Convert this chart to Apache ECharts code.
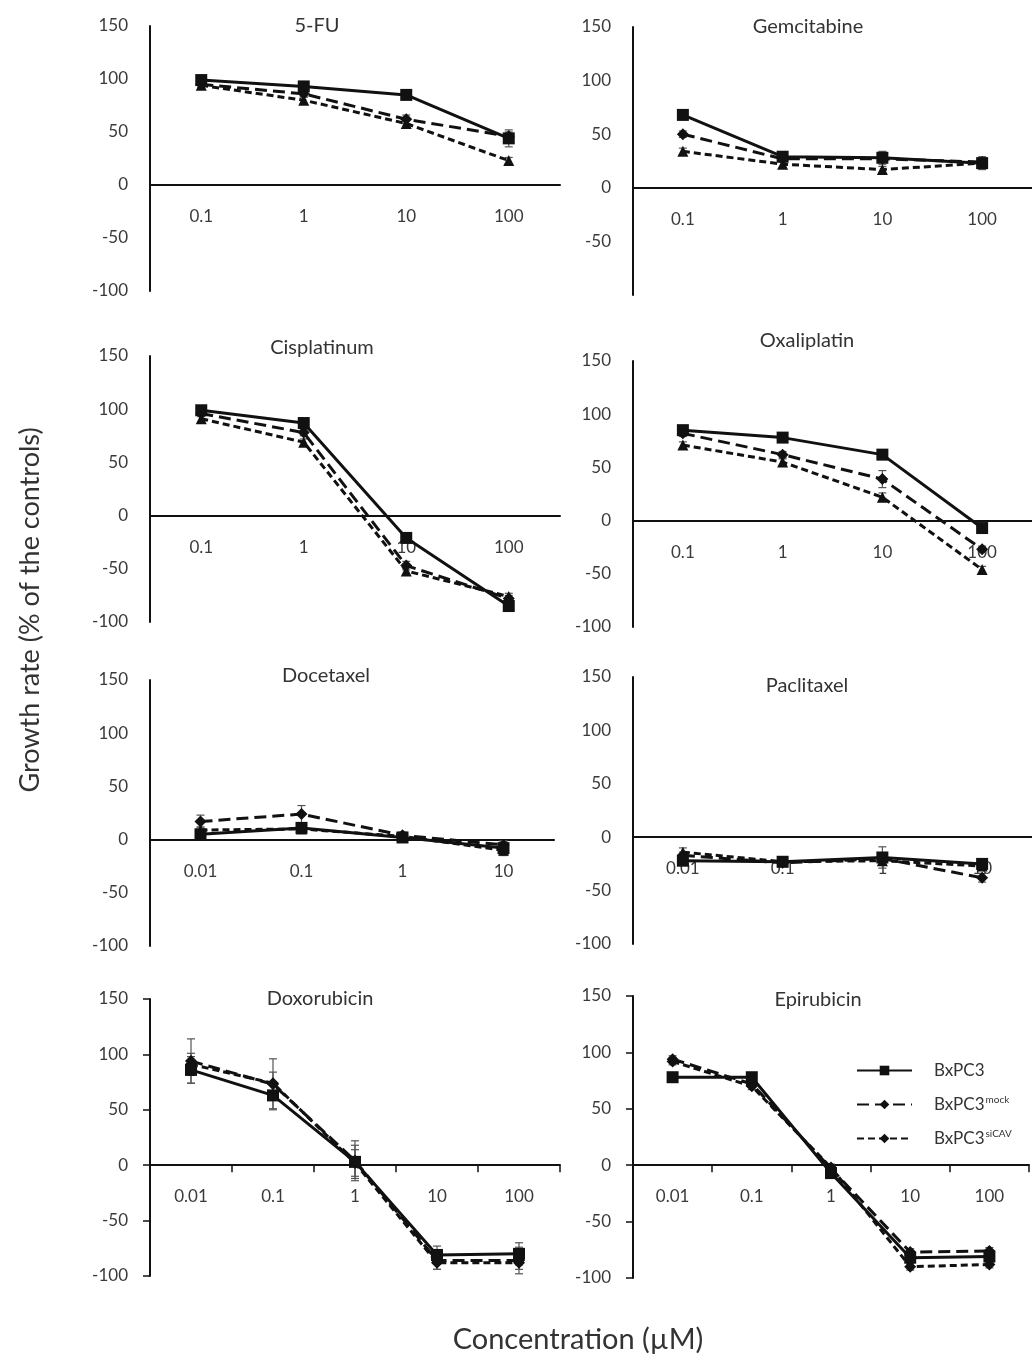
<!DOCTYPE html>
<html><head><meta charset="utf-8">
<script src="https://cdn.jsdelivr.net/npm/echarts@6/dist/echarts.min.js"></script>
<style>html,body{margin:0;padding:0;background:#fff}#c{width:1032px;height:1360px}</style>
</head><body><div id="c"></div>
<script>
// ---------- categories / ticks ----------
const concA = ['0.1', '1', '10', '100'];
const concB = ['0.01', '0.1', '1', '10'];
const concC = ['0.01', '0.1', '1', '10', '100'];
const yMin = -100, yMax = 150, yStep = 50;
const seriesNames = ['BxPC3', 'BxPC3mock', 'BxPC3siCAV'];
const drugTitles = ['5-FU', 'Gemcitabine', 'Cisplatinum', 'Oxaliplatin', 'Docetaxel', 'Paclitaxel', 'Doxorubicin', 'Epirubicin'];

// ---------- values (growth rate, % of controls) ----------
const fu_bx = [99, 93, 85, 44];
const fu_mock = [95, 86, 62, 46];
const fu_si = [94, 80, 58, 23];
const fu_err = [[3, 4, 3, 8], [3, 3, 4, 4], [3, 3, 4, 3]];

const gem_bx = [68, 29, 28, 23];
const gem_mock = [50, 27, 27, 24];
const gem_si = [34, 22, 17, 23];
const gem_err = [[3, 4, 6, 6], [3, 3, 3, 4], [3, 3, 3, 4]];

const cis_bx = [99, 87, -21, -85];
const cis_mock = [96, 78, -47, -78];
const cis_si = [91, 69, -52, -76];
const cis_err = [[3, 3, 4, 3], [3, 3, 4, 3], [3, 3, 4, 3]];

const oxa_bx = [85, 78, 62, -7];
const oxa_mock = [82, 62, 39, -27];
const oxa_si = [71, 55, 22, -46];
const oxa_err = [[3, 3, 3, 3], [3, 3, 8, 3], [3, 3, 4, 3]];

const doc_bx = [5, 11, 2, -8];
const doc_mock = [17, 24, 4, -5];
const doc_si = [9, 10, 3, -10];
const doc_err = [[3, 3, 3, 7], [6, 8, 3, 3], [3, 3, 3, 3]];

const pac_bx = [-22, -23, -19, -25];
const pac_mock = [-17, -24, -20, -38];
const pac_si = [-14, -23, -22, -27];
const pac_err = [[4, 3, 10, 4], [3, 3, 4, 4], [4, 3, 4, 4]];

const dox_bx = [86, 63, 3, -81, -80];
const dox_mock = [94, 73, 4, -86, -86];
const dox_si = [91, 74, 2, -88, -88];
const dox_err = [[12, 12, 15, 8, 10], [20, 23, 18, 8, 12], [10, 10, 12, 6, 6]];

const epi_bx = [78, 78, -7, -82, -81];
const epi_mock = [94, 72, -3, -77, -76];
const epi_si = [92, 70, -2, -90, -88];
const epi_err = [[3, 3, 3, 3, 3], [3, 3, 3, 3, 3], [3, 3, 3, 3, 3]];

// ---------- layout (positions only) ----------
const layout = [
  { left: 150, top: 26, width: 410, height: 265, tx: 317, ty: 26, ticks: false },
  { left: 633, top: 27, width: 408, height: 268, tx: 808, ty: 27, ticks: false, hideMin: true },
  { left: 150, top: 356, width: 410, height: 266, tx: 322, ty: 348, ticks: false },
  { left: 633, top: 361, width: 408, height: 266, tx: 807, ty: 341, ticks: false },
  { left: 150, top: 680, width: 404, height: 266, tx: 326, ty: 676, ticks: false },
  { left: 633, top: 677, width: 408, height: 267, tx: 807, ty: 686, ticks: false },
  { left: 150, top: 999, width: 410, height: 277, tx: 320, ty: 999, ticks: true },
  { left: 633, top: 996, width: 396, height: 282, tx: 818, ty: 1000, ticks: true }
];

const panels = [
  { cats: concA, vals: [fu_bx, fu_mock, fu_si], err: fu_err, triSi: true },
  { cats: concA, vals: [gem_bx, gem_mock, gem_si], err: gem_err, triSi: true },
  { cats: concA, vals: [cis_bx, cis_mock, cis_si], err: cis_err, triSi: true },
  { cats: concA, vals: [oxa_bx, oxa_mock, oxa_si], err: oxa_err, triSi: true },
  { cats: concB, vals: [doc_bx, doc_mock, doc_si], err: doc_err, triSi: true },
  { cats: concB, vals: [pac_bx, pac_mock, pac_si], err: pac_err, triSi: true },
  { cats: concC, vals: [dox_bx, dox_mock, dox_si], err: dox_err, triSi: false },
  { cats: concC, vals: [epi_bx, epi_mock, epi_si], err: epi_err, triSi: false }
];

const FONT = 'Lato';
const INK = '#111';
const LABEL = '#3a3a3a';

const grid = [], xAxis = [], yAxis = [], series = [], graphic = [];

function styleFor(k, triSi) {
  if (k === 0) return { symbol: 'rect', symbolSize: 12, lineStyle: { type: 'solid' } };
  if (k === 1) return { symbol: 'diamond', symbolSize: 12, lineStyle: { type: [12, 6] } };
  return { symbol: triSi ? 'triangle' : 'diamond', symbolSize: triSi ? 11 : 12, lineStyle: { type: [7, 4] } };
}

// order: put the Epirubicin panel first so the legend picks its symbols
const order = [7, 0, 1, 2, 3, 4, 5, 6];
order.forEach(function (i) {
  const L = layout[i], P = panels[i];
  // labels sit just under the zero line: offset measured from the grid bottom
  const zeroOffset = L.height * (0 - yMin) / (yMax - yMin);
  grid[i] = { left: L.left, top: L.top, width: L.width, height: L.height, containLabel: false };
  xAxis[i] = {
    type: 'category', gridIndex: i, data: P.cats, boundaryGap: true,
    axisLine: { onZero: true, lineStyle: { color: INK, width: 2 } },
    axisTick: { show: L.ticks, length: 7, lineStyle: { color: INK, width: 1.5 } },
    axisLabel: { color: LABEL, fontSize: 17, fontFamily: FONT, margin: 23 - zeroOffset },
    splitLine: { show: false }
  };
  yAxis[i] = {
    type: 'value', gridIndex: i, min: yMin, max: yMax, interval: yStep,
    axisLine: { show: true, lineStyle: { color: INK, width: 2 } },
    axisTick: { show: L.ticks, length: 7, lineStyle: { color: INK, width: 1.5 } },
    axisLabel: {
      color: LABEL, fontSize: 17, fontFamily: FONT, margin: 22,
      formatter: function (v) { return (L.hideMin && v === yMin) ? '' : String(v); }
    },
    splitLine: { show: false }
  };
});

order.forEach(function (i) {
  const P = panels[i];
  for (let k = 0; k < 3; k++) {
    const st = styleFor(k, P.triSi);
    series.push({
      type: 'line', name: seriesNames[k], xAxisIndex: i, yAxisIndex: i,
      data: P.vals[k], symbol: st.symbol, symbolSize: st.symbolSize,
      itemStyle: { color: INK },
      lineStyle: Object.assign({ color: INK, width: 3 }, st.lineStyle),
      z: 3 + (2 - k), silent: true
    });
  }
  // error bars
  const ebData = [];
  for (let k = 0; k < 3; k++) {
    P.vals[k].forEach(function (v, j) { ebData.push([j, v, P.err[k][j]]); });
  }
  series.push({
    type: 'custom', name: 'err' + i, xAxisIndex: i, yAxisIndex: i, data: ebData, z: 2, silent: true,
    renderItem: function (params, api) {
      const x = api.value(0), v = api.value(1), e = api.value(2);
      const hi = api.coord([x, v + e]), lo = api.coord([x, v - e]);
      const c = 4;
      const s = { stroke: '#555', lineWidth: 1.2 };
      return { type: 'group', children: [
        { type: 'line', shape: { x1: hi[0], y1: hi[1], x2: lo[0], y2: lo[1] }, style: s },
        { type: 'line', shape: { x1: hi[0] - c, y1: hi[1], x2: hi[0] + c, y2: hi[1] }, style: s },
        { type: 'line', shape: { x1: lo[0] - c, y1: lo[1], x2: lo[0] + c, y2: lo[1] }, style: s }
      ] };
    }
  });
});

layout.forEach(function (L, i) {
  graphic.push({ type: 'text', x: L.tx, y: L.ty, style: { text: drugTitles[i], fill: '#333', font: '20px ' + FONT, textAlign: 'center', textVerticalAlign: 'middle' } });
});
graphic.push({ type: 'text', x: 30, y: 610, rotation: Math.PI / 2, style: { text: 'Growth rate (% of the controls)', fill: '#333', font: '27px ' + FONT, textAlign: 'center', textVerticalAlign: 'middle' } });
graphic.push({ type: 'text', x: 578, y: 1340, style: { text: 'Concentration (µM)', fill: '#333', font: '29px ' + FONT, textAlign: 'center', textVerticalAlign: 'middle' } });

const option = {
  animation: false,
  backgroundColor: '#fff',
  grid: grid, xAxis: xAxis, yAxis: yAxis, series: series, graphic: graphic,
  legend: {
    data: seriesNames, orient: 'vertical', left: 851, top: 1057,
    itemWidth: 55, itemHeight: 12, itemGap: 16, selectedMode: false,
    textStyle: {
      color: '#333', fontFamily: FONT, fontSize: 17,
      rich: {
        b: { fontSize: 17, fontFamily: FONT, color: '#333', padding: [0, 0, 0, 17] },
        s: { fontSize: 10, fontFamily: FONT, color: '#333', padding: [0, 0, 9, 1] }
      }
    },
    formatter: function (n) {
      if (n === 'BxPC3mock') return '{b|BxPC3}{s|mock}';
      if (n === 'BxPC3siCAV') return '{b|BxPC3}{s|siCAV}';
      return '{b|BxPC3}';
    }
  }
};
echarts.init(document.getElementById('c'), null, { renderer: 'canvas' }).setOption(option);
</script>
</body></html>
